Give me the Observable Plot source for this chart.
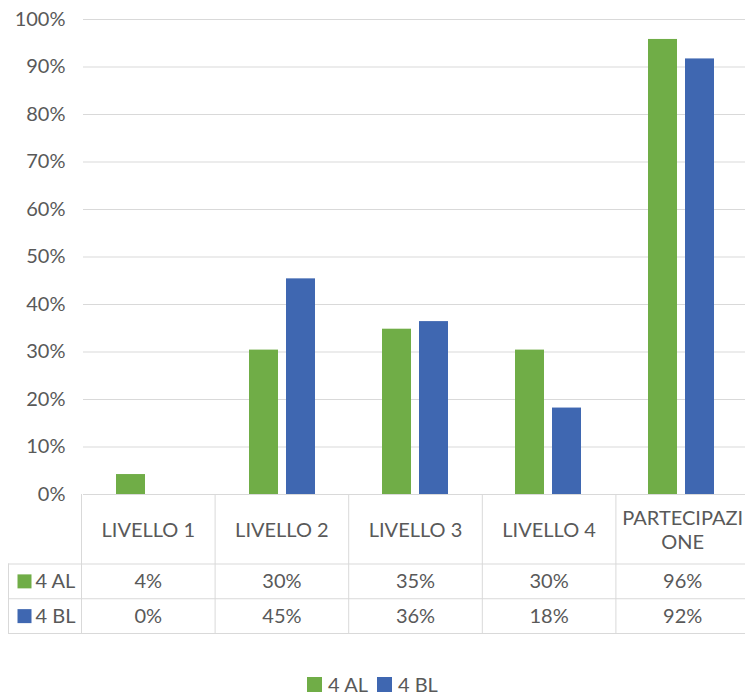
<!DOCTYPE html>
<html>
<head>
<meta charset="utf-8">
<script src="https://cdn.jsdelivr.net/npm/d3@7"></script>
<script src="https://cdn.jsdelivr.net/npm/@observablehq/plot@0.6"></script>
<style>
  html, body { margin: 0; padding: 0; background: #fff; overflow: hidden; }
  #wrap { position: relative; width: 745px; height: 695px; font-family: Lato, sans-serif; color: #595959; }
  #chart, #table { position: absolute; left: 0; }
  #chart { top: 0; }
  #table { top: 494px; }
  #legend { position: absolute; left: 0; top: 675px; width: 745px; height: 19px; display: flex; justify-content: center; align-items: center; font-size: 20px; line-height: 19px; }
  .item { display: flex; align-items: center; margin: 0 4.5px; }
  .sw { width: 15px; height: 15px; margin-right: 6px; }
</style>
</head>
<body>
<div id="wrap">
  <div id="chart"></div>
  <div id="table"></div>
  <div id="legend"></div>
</div>
<script>
// ---- data ----
const categories = ["LIVELLO 1", "LIVELLO 2", "LIVELLO 3", "LIVELLO 4", "PARTECIPAZIONE"];
const headerLabels = ["LIVELLO 1", "LIVELLO 2", "LIVELLO 3", "LIVELLO 4", "PARTECIPAZI\nONE"];
const series = ["4 AL", "4 BL"];
const values4AL = [0.042, 0.304, 0.348, 0.304, 0.958];
const values4BL = [0.0, 0.454, 0.364, 0.182, 0.917];
const colors = ["#70AD47", "#3F67B1"];
const yTicks = [0, 0.1, 0.2, 0.3, 0.4, 0.5, 0.6, 0.7, 0.8, 0.9, 1.0];

const seriesValues = [values4AL, values4BL];
const rows = categories.flatMap((c, i) =>
  series.map((s, k) => ({category: c, col: i, series: s, row: k, value: seriesValues[k][i]}))
);
const pct = d3.format(".0%");
const grid = "#d9d9d9";
const baseStyle = {background: "transparent", fontFamily: "Lato, sans-serif", fontSize: "20px", color: "#595959"};

// ---- bar chart ----
const chart = Plot.plot({
  width: 745,
  height: 506,
  marginTop: 19,
  marginBottom: 12,
  marginLeft: 81,
  marginRight: 0,
  style: baseStyle,
  fx: {domain: categories, range: [81, 749], paddingInner: 0, paddingOuter: 0, axis: null},
  x: {domain: series, paddingInner: 0.21, paddingOuter: 0.863, axis: null},
  y: {domain: [0, 1], axis: null},
  color: {domain: series, range: colors},
  marks: [
    Plot.ruleY(yTicks, {stroke: grid, strokeWidth: 1}),
    Plot.barY(rows, {fx: "category", x: "series", y: "value", fill: "series"}),
    Plot.axisY(yTicks, {tickFormat: pct, tickSize: 0, tickPadding: 18, label: null, fill: "#595959"})
  ]
});
document.getElementById("chart").appendChild(chart);

// ---- data table ----
const colEdges = [...categories.keys(), categories.length];
const table = Plot.plot({
  width: 745,
  height: 141,
  marginTop: 0,
  marginBottom: 2,
  marginLeft: 81,
  marginRight: 0,
  style: baseStyle,
  x: {domain: [0, categories.length], range: [81, 749], axis: null},
  y: {domain: [0, 4], range: [0, 139], axis: null},
  color: {domain: series, range: colors},
  marks: [
    Plot.ruleX(colEdges, {y1: 0, y2: 4, stroke: grid, strokeWidth: 1}),
    Plot.ruleX([0], {y1: 2, y2: 4, dx: -73, stroke: grid, strokeWidth: 1}),
    Plot.ruleY([2, 3, 4], {insetLeft: -73, stroke: grid, strokeWidth: 1}),
    Plot.text(headerLabels, {x: (d, i) => i + 0.5, y: 1, text: d => d, lineHeight: 1.22, fill: "#595959"}),
    Plot.text(rows, {x: d => d.col + 0.5, y: d => 2.5 + d.row, text: d => pct(d.value), fill: "#595959"}),
    Plot.dot(series, {x: 0, y: (d, i) => 2.5 + i, dx: -57, symbol: "square", r: 7.9, fill: d => d, stroke: null}),
    Plot.text(series, {x: 0, y: (d, i) => 2.5 + i, dx: -46, textAnchor: "start", text: d => d, fill: "#595959"})
  ]
});
document.getElementById("table").appendChild(table);

// ---- legend ----
const legend = document.getElementById("legend");
series.forEach((s, k) => {
  const item = document.createElement("div");
  item.className = "item";
  const sw = document.createElement("span");
  sw.className = "sw";
  sw.style.background = colors[k];
  const t = document.createElement("span");
  t.textContent = s;
  item.appendChild(sw);
  item.appendChild(t);
  legend.appendChild(item);
});
</script>
</body>
</html>
